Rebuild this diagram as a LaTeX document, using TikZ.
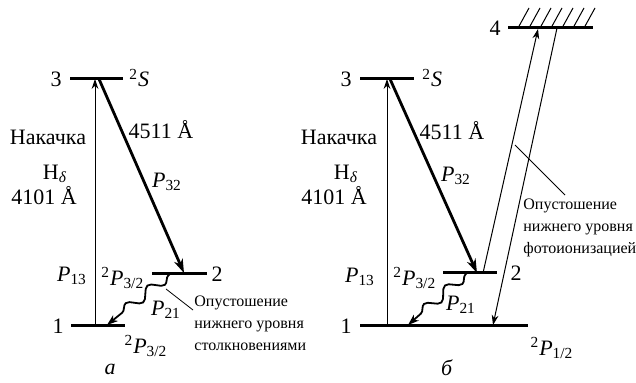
\documentclass[tikz,border=0pt]{standalone}
\usepackage{fontspec}
\setmainfont{Liberation Serif}
\usetikzlibrary{arrows.meta,decorations.pathmorphing}
\newcommand{\term}[3]{\textsuperscript{#1}\textit{#2}\textsubscript{#3}}
\newcommand{\prob}[1]{\textit{P}\textsubscript{#1}}
\tikzset{
  level/.style={line width=1.5pt},
  pump/.style={line width=0.5pt,-{Stealth[length=5pt,width=3.4pt,inset=1.6pt]}},
  emit/.style={line width=1.4pt,-{Stealth[length=7pt,width=4.6pt,inset=2.2pt]}},
  % collisional decay drawn as a wavy arrow
  decay/.style={line width=0.9pt,-{Stealth[length=5.5pt,width=3.8pt,inset=1.6pt]},
                decorate,decoration={snake,amplitude=2.6pt,segment length=14pt,pre length=1pt,post length=5pt}},
  leader/.style={line width=0.4pt},
  hatch/.style={line width=0.5pt},
  lab/.style={font=\fontsize{11}{13}\selectfont,inner sep=0},
  note/.style={font=\fontsize{8}{11}\selectfont,align=left,inner sep=0,anchor=west},
}
\begin{document}
\begin{tikzpicture}[x=0.5pt,y=-0.5pt]
  \useasboundingbox (0,0) rectangle (636,383);
  % panel a: the lower level is emptied by collisions
  \begin{scope}
    \coordinate (a3w) at (70,79);   \coordinate (a3e) at (123,79);
    \coordinate (a2w) at (152,274); \coordinate (a2e) at (207,274);
    \coordinate (a1w) at (71,326);  \coordinate (a1e) at (125,326);
    \foreach \l in {3,2,1} { \draw[level] (a\l w) -- (a\l e); }
    \coordinate (a3p) at (95,79);   \coordinate (a1p) at (95,326);
    \coordinate (a3s) at (99,79);   \coordinate (a2t) at (184,273);
    \coordinate (a2s) at (170,274); \coordinate (a1t) at (107,325);
    \draw[pump] (a1p) -- (a3p);
    \draw[emit] (a3s) -- (a2t);
    \draw[decay] (a2s) -- (a1t);
    \node[lab] (a3n) at (56,79) {3};
    \node[lab] (a2n) at (217,274) {2};
    \node[lab] (a1n) at (58,326) {1};
    \node[lab,anchor=west] (a3t) at (129,78) {\textsuperscript{2}\textit{S}};
    \node[lab] (apump) at (48,137) {Накачка};
    \node[lab] (ahd) at (55,174) {H\textsubscript{\textit{δ}}};
    \node[lab] (awl1) at (44,196) {4101 Å};
    \node[lab] (awl2) at (161,130) {4511 Å};
    \node[lab] (ap32) at (167,182) {\prob{32}};
    \node[lab] (ap13) at (72,276) {\prob{13}};
    \node[lab,anchor=west] (a2l) at (101,278) {\term{2}{P}{3/2}};
    \node[lab] (ap21) at (166,310) {\prob{21}};
    \node[lab] (a1l) at (146,346) {\term{2}{P}{3/2}};
    \node[lab] (acap) at (110,369) {\textit{а}};
    \node[note] (anote) at (194,323) {Опустошение\\нижнего уровня\\столкновениями};
    \coordinate (alf) at (166,289); \coordinate (alt) at (193,310);
    \draw[leader] (alf) -- (alt);
  \end{scope}
  % panel b: the lower level is emptied by photoionisation
  \begin{scope}[shift={(290,0)}]
    \coordinate (b4w) at (218,28);  \coordinate (b4e) at (303,28);
    \coordinate (b3w) at (70,79);   \coordinate (b3e) at (124,79);
    \coordinate (b2w) at (153,273); \coordinate (b2e) at (207,273);
    \coordinate (b1w) at (70,326);  \coordinate (b1e) at (238,326);
    \foreach \l in {4,3,2,1} { \draw[level] (b\l w) -- (b\l e); }
    \foreach \i in {0,...,6} { \draw[hatch] (228+11*\i,28) -- ++(11,-20); }
    \coordinate (b3p) at (97,79);   \coordinate (b1p) at (97,326);
    \coordinate (b3s) at (100,79);  \coordinate (b2t) at (187,273);
    \coordinate (b2s) at (177,273); \coordinate (b1t) at (118,325);
    \coordinate (b2u) at (193,273); \coordinate (b4t) at (248,29);
    \coordinate (b4s) at (267,28);  \coordinate (b1d) at (203,325);
    \draw[pump] (b1p) -- (b3p);
    \draw[emit] (b3s) -- (b2t);
    \draw[decay] (b2s) -- (b1t);
    \draw[pump] (b2u) -- (b4t);
    \draw[pump] (b4s) -- (b1d);
    \node[lab] (b4n) at (205,28) {4};
    \node[lab] (b3n) at (56,79) {3};
    \node[lab] (b2n) at (226,273) {2};
    \node[lab] (b1n) at (56,326) {1};
    \node[lab,anchor=west] (b3t) at (132,78) {\textsuperscript{2}\textit{S}};
    \node[lab] (bpump) at (49,137) {Накачка};
    \node[lab] (bhd) at (56,174) {H\textsubscript{\textit{δ}}};
    \node[lab] (bwl1) at (44,196) {4101 Å};
    \node[lab] (bwl2) at (162,131) {4511 Å};
    \node[lab] (bp32) at (166,176) {\prob{32}};
    \node[lab] (bp13) at (70,277) {\prob{13}};
    \node[lab,anchor=west] (b2l) at (103,278) {\term{2}{P}{3/2}};
    \node[lab] (bp21) at (171,305) {\prob{21}};
    \node[lab] (b1l) at (262,348) {\term{2}{P}{1/2}};
    \node[lab] (bcap) at (157,368) {\textit{б}};
    \node[note] (bnote) at (233,228) {Опустошение\\нижнего уровня\\фотоионизацией};
    \coordinate (blf) at (225,145); \coordinate (blt) at (275,195);
    \draw[leader] (blf) -- (blt);
  \end{scope}
\end{tikzpicture}
\end{document}
